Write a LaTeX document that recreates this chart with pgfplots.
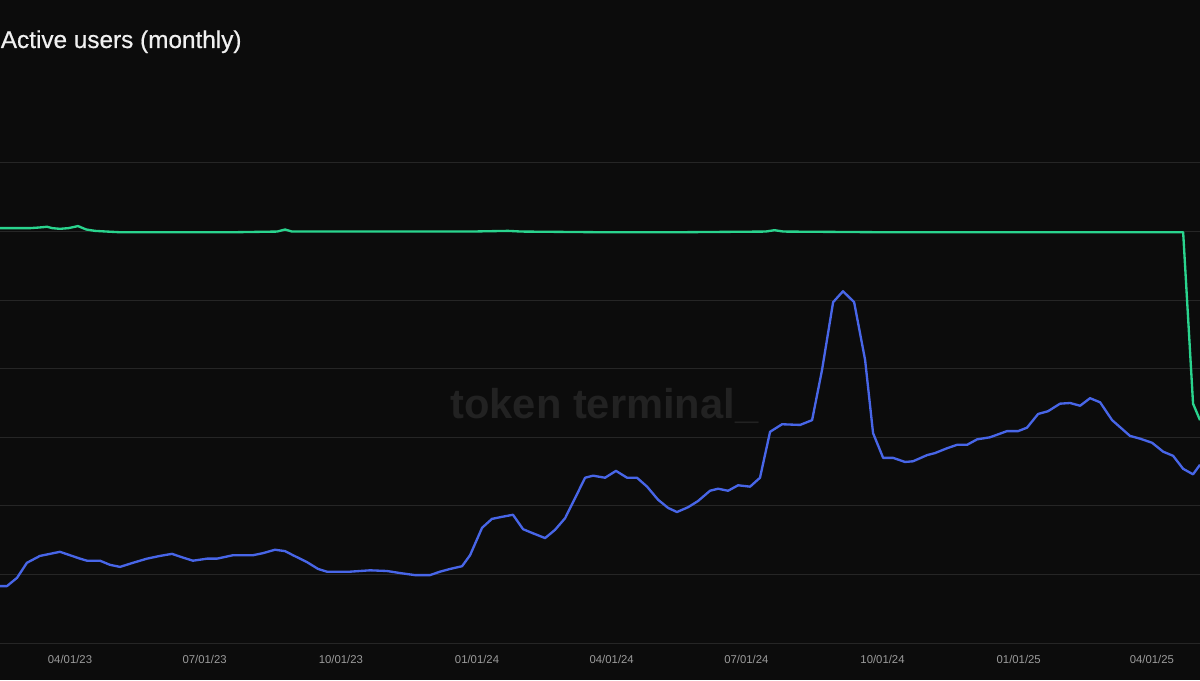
\documentclass[border=0pt]{standalone}
\usepackage{fontspec}
\setmainfont{Liberation Sans}
\usepackage{pgfplots}
\pgfplotsset{compat=1.18}
\definecolor{bg}{RGB}{12,12,12}
\definecolor{gridc}{RGB}{38,38,38}
\definecolor{tickc}{RGB}{155,155,155}
\definecolor{wm}{RGB}{34,34,34}
\definecolor{blueline}{RGB}{72,102,232}
\definecolor{greenline}{RGB}{42,212,142}
\begin{document}
\begin{tikzpicture}
\path[use as bounding box] (0,-22.2pt) rectangle (720pt,385.8pt);
\clip (0,-22.2pt) rectangle (720pt,385.8pt);
\fill[bg] (0,-22.2pt) rectangle (720pt,385.8pt);
\node[anchor=base west, text=wm, font=\fontsize{25pt}{28pt}\selectfont\bfseries, inner sep=0pt] at (270pt,135pt) {token terminal\_};
\node[anchor=base west, text=white!94!black, font=\fontsize{14.6pt}{16pt}\selectfont\addfontfeatures{FakeBold=0.6}, inner sep=0pt] at (0.3pt,357pt) {Active users (monthly)};
\begin{axis}[
  at={(0,0)}, anchor=south west,
  scale only axis, width=720pt, height=385.8pt,
  xmin=42.7, xmax=853.5, ymin=0, ymax=9.377,
  axis line style={draw=none},
  tick style={draw=none},
  ytick={0,1,2,3,4,5,6,7},
  yticklabels={},
  ymajorgrids,
  major grid style={draw=gridc, line width=0.6pt},
  xtick={90,181,273,365,456,547,639,731,821},
  xticklabels={04/01/23,07/01/23,10/01/23,01/01/24,04/01/24,07/01/24,10/01/24,01/01/25,04/01/25},
  xticklabel style={text=tickc, font=\fontsize{6.8pt}{8pt}\selectfont, anchor=center, yshift=-9.6pt},
]
\addplot[greenline, line width=1.4pt, line join=round] coordinates {
(42.7,6.05) (49.5,6.05) (56.2,6.05) (63.0,6.05) (69.7,6.06) (74.5,6.07) (78.0,6.05) (83.2,6.04) (89.0,6.05) (95.4,6.08) (101,6.03) (106.9,6.01) (115,6.00) (123.8,5.99) (160,5.99) (200,5.99) (230,6.0) (235.3,6.03) (240,6.0) (300,6.0) (360,6.0) (386,6.01) (395,6.0) (450,5.99) (500,5.99) (560,6.0) (566,6.02) (572,6.0) (640,5.99) (700,5.99) (760,5.99) (800,5.99) (842.1,5.99) (848.8,3.49) (853.5,3.25)
};
\addplot[blueline, line width=1.4pt, line join=round] coordinates {
(42.7,0.83) (47.4,0.83) (54.2,0.95) (60.9,1.17) (69.7,1.27) (76.5,1.30) (83.2,1.33) (90.0,1.28) (96.8,1.23) (101.5,1.20) (110.3,1.20) (117.0,1.14) (123.8,1.11) (132.6,1.17) (142.0,1.23) (150.8,1.27) (158.9,1.30) (165.7,1.25) (173.1,1.20) (182.6,1.23) (189.3,1.23) (200.1,1.28) (213.6,1.28) (220.4,1.31) (228.5,1.36) (235.3,1.34) (240.7,1.28) (250.1,1.18) (257.6,1.08) (263.6,1.04) (279.2,1.04) (292.7,1.06) (304.2,1.05) (313.0,1.02) (323.1,0.99) (333.2,0.99) (340.0,1.04) (346.8,1.08) (354.9,1.12) (360.3,1.28) (368.4,1.68) (375.1,1.81) (381.9,1.84) (389.3,1.87) (396.1,1.66) (402.8,1.60) (411.0,1.53) (417.7,1.65) (424.5,1.82) (431.2,2.11) (438.0,2.41) (443.4,2.44) (451.5,2.41) (458.9,2.51) (466.4,2.41) (473.1,2.41) (479.9,2.28) (487.3,2.09) (494.1,1.97) (500.1,1.91) (507.6,1.98) (514.3,2.07) (522.4,2.22) (527.9,2.25) (534.6,2.22) (541.4,2.30) (549.5,2.28) (556.2,2.41) (563.0,3.08) (571.1,3.19) (583.3,3.18) (591.4,3.25) (598.1,3.98) (605.6,4.97) (612.3,5.13) (619.8,4.97) (627.2,4.13) (632.6,3.06) (639.4,2.70) (646.1,2.70) (654.2,2.64) (659.6,2.65) (669.1,2.74) (674.5,2.77) (682.6,2.84) (689.3,2.89) (696.1,2.89) (702.9,2.97) (711.6,3.00) (723.1,3.09) (730.6,3.09) (736.6,3.14) (744.1,3.34) (750.8,3.38) (758.9,3.49) (765.7,3.50) (772.5,3.46) (779.2,3.57) (786.0,3.51) (794.1,3.25) (806.2,3.02) (813.0,2.98) (821.1,2.92) (828.6,2.79) (835.3,2.73) (842.1,2.54) (848.8,2.46) (853.5,2.60)
};
\end{axis}
\end{tikzpicture}
\end{document}
